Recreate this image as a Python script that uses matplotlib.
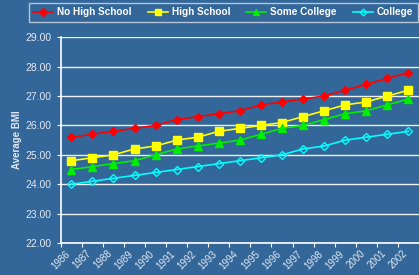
import matplotlib
matplotlib.use('Agg')
import matplotlib.pyplot as plt

plt.rcParams['font.family'] = ['Liberation Sans', 'DejaVu Sans']

years = [str(y) for y in range(1986, 2003)]
no_hs = [25.6, 25.7, 25.8, 25.9, 26.0, 26.2, 26.3, 26.4, 26.5, 26.7, 26.8, 26.9, 27.0, 27.2, 27.4, 27.6, 27.8]
hs = [24.8, 24.9, 25.0, 25.2, 25.3, 25.5, 25.6, 25.8, 25.9, 26.0, 26.1, 26.3, 26.5, 26.7, 26.8, 27.0, 27.2]
some_col = [24.5, 24.6, 24.7, 24.8, 25.0, 25.2, 25.3, 25.4, 25.5, 25.7, 25.9, 26.0, 26.2, 26.4, 26.5, 26.7, 26.9]
college = [24.0, 24.1, 24.2, 24.3, 24.4, 24.5, 24.6, 24.7, 24.8, 24.9, 25.0, 25.2, 25.3, 25.5, 25.6, 25.7, 25.8]
yticks = [22, 23, 24, 25, 26, 27, 28, 29]

bg = '#336699'
txt = '#e2e8f0'

fig = plt.figure(figsize=(4.19, 2.75), dpi=100, facecolor=bg)
ax = fig.add_axes([0.145, 0.1164, 0.855, 0.748])
ax.set_facecolor(bg)

x = [i + 0.5 for i in range(len(years))]
ax.plot(x, no_hs, color='#ff0000', lw=1.2, marker='D', ms=4.5, label='No High School')
ax.plot(x, hs, color='#ffff00', lw=1.2, marker='s', ms=5.5, label='High School')
ax.plot(x, some_col, color='#00ee00', lw=1.2, marker='^', ms=5.5, label='Some College')
ax.plot(x, college, color='#00ffff', lw=1.2, marker='D', ms=4, mfc='none', mew=1, label='College')

ax.set_xlim(0, len(years))
ax.set_ylim(22, 29)
ax.set_yticks(yticks)
ax.set_yticklabels(['%.2f' % v for v in yticks])
ax.set_xticks(range(len(years)))
ax.set_xticklabels(years, rotation=45, ha='center')
ax.grid(axis='y', color='#eef0f4', lw=1)
ax.set_axisbelow(True)

for s in ['top', 'right']:
    ax.spines[s].set_visible(False)
for s in ['left', 'bottom']:
    ax.spines[s].set_color('white')
    ax.spines[s].set_linewidth(1.2)
ax.tick_params(axis='both', colors='white', labelcolor=txt, labelsize=7.5, length=3)
ax.tick_params(axis='x', labelsize=7, pad=1)

ax.set_ylabel('Average BMI', color=txt, fontsize=7, fontweight='bold')
ax.yaxis.set_label_coords(-0.107, 0.5)

leg = fig.legend(loc='upper left', bbox_to_anchor=(0.069, 0.99), ncol=4, frameon=True,
                 prop={'weight': 'bold', 'size': 7.2}, handlelength=2.0,
                 columnspacing=1.6, handletextpad=0.4, borderpad=0.45, borderaxespad=0,
                 fancybox=False, markerscale=0.85)
leg.get_frame().set_facecolor(bg)
leg.get_frame().set_edgecolor('#d8dde6')
for t in leg.get_texts():
    t.set_color('white')

plt.savefig('out.png', dpi=100, facecolor=bg)
